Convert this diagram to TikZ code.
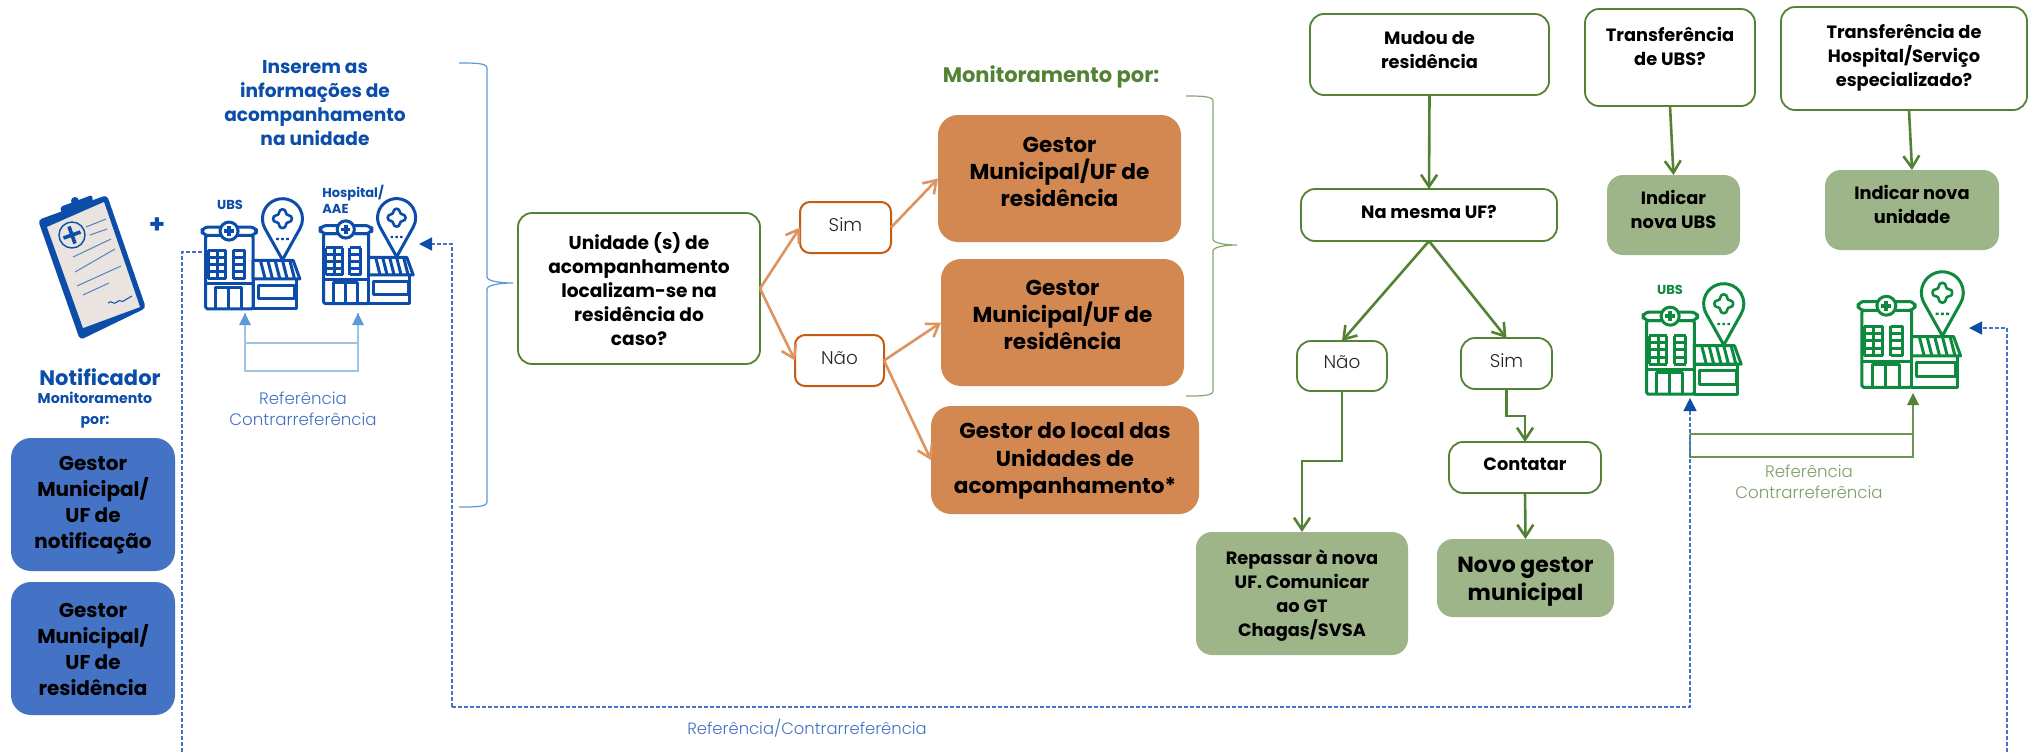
\documentclass[tikz,border=0pt]{standalone}
\usepackage{fontspec}
\setmainfont{Poppins}
\newfontfamily\lightf{Poppins Light}
\usetikzlibrary{arrows.meta}
\definecolor{iconblue}{HTML}{0B4DA8}
\definecolor{boxblue}{HTML}{4472C4}
\definecolor{lightblue}{HTML}{9DC3E6}
\definecolor{headblue}{HTML}{5B9BD5}
\definecolor{orangefill}{HTML}{D38851}
\definecolor{orangeline}{HTML}{C55A11}
\definecolor{orangearrow}{HTML}{DE9460}
\definecolor{greenline}{HTML}{548235}
\definecolor{greenfill}{HTML}{9DB588}
\definecolor{icongreen}{HTML}{0E8A3E}
\definecolor{paper}{HTML}{E9E4DF}
\definecolor{reftext}{HTML}{7F9F66}
\tikzset{
  bxbase/.style={rounded corners=#1,inner sep=0pt,outer sep=0pt},
  whitegreen/.style={bxbase=7pt,draw=greenline,line width=.9pt,fill=white},
  whiteorange/.style={bxbase=5pt,draw=orangeline,line width=1pt,fill=white},
  fillorange/.style={bxbase=10pt,fill=orangefill},
  fillgreen/.style={bxbase=8pt,fill=greenfill},
  fillblue/.style={bxbase=10pt,fill=boxblue},
  tx/.style={align=center,inner sep=0pt,text=black},
  t9/.style={tx,font=\fontsize{8.9}{12}\selectfont\bfseries},
  t10/.style={tx,font=\fontsize{9.3}{12}\selectfont\bfseries},
  t12/.style={tx,font=\fontsize{10.8}{13.7}\selectfont\bfseries},
  tnov/.style={tx,font=\fontsize{11}{14}\selectfont\bfseries},
  tleft/.style={tx,font=\fontsize{10}{13}\selectfont\bfseries},
  treg/.style={tx,font=\fontsize{9.2}{12}\selectfont\lightf,text=black!85},
  orarrow/.style={draw=orangearrow,line width=1.3pt,-{Straight Barb[length=6pt,width=8pt,line width=1.3pt]}},
  grarrow/.style={draw=greenline,line width=1.3pt,-{Straight Barb[length=6pt,width=8pt,line width=1.3pt]}},
  dashline/.style={draw=boxblue,line width=.7pt,dash pattern=on 1.8pt off 1.2pt},
  dashtip/.style={-{Triangle[length=6.5pt,width=6.5pt,fill=iconblue,color=iconblue]}},
  brace/.style={draw=#1,line width=.6pt},
  refline/.style={line width=.7pt},
  pics/hosp/.style={code={
    \begin{scope}[draw=#1,line width=1.5pt,line join=round]
      \draw[fill=white,rounded corners=.8pt] (11,115) rectangle (153,335);
      \draw[fill=white,rounded corners=3pt] (0,90) rectangle (163,115);
      \draw[fill=white] (81,102) circle (27);
      \draw[line width=1.9pt] (81,88) -- (81,116) (67,102) -- (95,102);
      \foreach \yy in {160,181,202,224,245} {\draw (18,\yy) -- (71,\yy) (93,\yy) -- (128,\yy);}
      \draw (18,160) -- (18,245) (71,160) -- (71,245) (45,160) -- (45,245) (93,160) -- (93,245) (128,160) -- (128,245);
      \draw (11,260) -- (153,260);
      \draw (41,335) -- (41,270) -- (118,270) -- (118,335) (79,270) -- (79,335);
      \draw[fill=white] (153,245) rectangle (283,335);
      \draw (168,265) rectangle (278,305);
      \draw[fill=white] (153,190) -- (273,190) -- (293,245) -- (153,245) -- cycle;
      \foreach \xx in {175,197,219,241,263} {\draw (\xx,190) -- (\xx+14,245);}
      \draw[fill=white] (241,188) -- (189,95) arc[start angle=150,end angle=390,radius=60] -- cycle;
      \draw[fill=white,line width=1.3pt,rounded corners=1.5pt] (231,37) -- (251,37) -- (251,55) -- (269,55) -- (269,75) -- (251,75) -- (251,93) -- (231,93) -- (231,75) -- (213,75) -- (213,55) -- (231,55) -- cycle;
      \fill[#1] (222,122) rectangle (230,129) (237,122) rectangle (245,129) (252,122) rectangle (260,129);
    \end{scope}
  }},
}
\newcommand{\bx}[9]{%
  \pgfmathsetmacro{\bxw}{(#4-#2)*0.5}%
  \pgfmathsetmacro{\bxh}{(#5-#3)*0.5}%
  \node[#6,minimum width=\bxw pt,minimum height=\bxh pt] (#1) at ({(#2+#4)/2},{(#3+#5)/2}) {};
  \node[#8] (#1text) at ({(#2+#4)/2},#7) {#9};
}
\begin{document}
\begin{tikzpicture}[x=.5pt,y=-.5pt]
\useasboundingbox (0,0) rectangle (2028,752);
\fill[white] (0,0) rectangle (2028,752);

% clipboard
\fill[iconblue,rounded corners=2pt] (38,220) -- (107,195) -- (146,308) -- (80,340) -- cycle;
\fill[paper] (47,227) -- (104,202) -- (140,307) -- (83,328) -- cycle;
\fill[iconblue,rounded corners=1pt] (60,207) -- (92,195) -- (93,202) -- (62,214) -- cycle;
\fill[iconblue] (75,201) circle (4);
\draw[iconblue,line width=.7pt] (72,235) circle (13);
\draw[iconblue,line width=1.8pt] (63.5,238) -- (80.5,232) (69,226.5) -- (75,243.5);
\draw[iconblue!70!white,line width=.5pt]
  (86,227) -- (106,219) (90,235) -- (107,229) (73,257) -- (111,239)
  (75,272) -- (115,249) (77,286) -- (121,266) (83,295) -- (109,283);
\draw[iconblue,line width=.5pt] (108,303) .. controls (112,299) and (113,306) .. (117,302) .. controls (120,298) and (122,304) .. (125,300) -- (132,296);
\node[font=\fontsize{13}{13}\selectfont\bfseries,text=iconblue,inner sep=0pt] (plus) at (157,226) {+};

% heading
\node[t10,text=iconblue] (heading) at (315,103) {Inserem  as\\informações de\\acompanhamento\\na unidade};

% blue icons
\pic at (202,197) [scale=.334] {hosp=iconblue};
\pic at (320,197) [scale=.318] {hosp=iconblue};
\node[font=\fontsize{6.5}{7}\selectfont\bfseries,text=iconblue,inner sep=0pt] (ubsa) at (230,205) {UBS};
\node[font=\fontsize{6.5}{8}\selectfont\bfseries,text=iconblue,inner sep=0pt,align=left,anchor=west] (hospa) at (322,199) {Hospital/\\AAE};

% local reference arrows
\coordinate (ra) at (245,313);
\coordinate (rb) at (358,313);
\coordinate (rc) at (245,371);
\coordinate (rd) at (358,371);
\coordinate (re) at (245,343);
\coordinate (rf) at (358,343);
\draw[lightblue,refline] (re) -- (rf);
\draw[lightblue,refline] (rb) -- (rd) -- (rc) -- (ra);
\fill[headblue] (245,313) -- (239,325) -- (251,325) -- cycle;
\fill[headblue] (358,313) -- (352,325) -- (364,325) -- cycle;
\node[tx,font=\fontsize{8.3}{10.3}\selectfont\lightf,text=boxblue] (refa) at (303,409) {Referência\\Contrarreferência};

% notifier
\node[tx,font=\fontsize{10.5}{10.5}\selectfont\bfseries,text=iconblue] (notif) at (100,377) {Notificador};
\node[tx,font=\fontsize{7.1}{10.5}\selectfont\bfseries,text=iconblue] (monb) at (95,410) {Monitoramento\\por:};
\bx{ga}{11}{438}{175}{571}{fillblue}{505}{tleft}{Gestor\\Municipal/\\UF de\\notificação}
\bx{gb}{11}{582}{175}{715}{fillblue}{649}{tleft}{Gestor\\Municipal/\\UF de\\residência}

% blue brace
\draw[brace=headblue] (459,63) .. controls (475,63) and (487,63) .. (487,68) -- (487,277) .. controls (487,281) and (500,283) .. (513,283) .. controls (500,283) and (487,285) .. (487,289) -- (487,502) .. controls (487,507) and (475,507) .. (459,507);

% middle
\bx{q}{518}{213}{760}{364}{whitegreen}{289}{t10}{Unidade (s) de\\acompanhamento\\localizam-se na\\residência do\\caso?}
\bx{sima}{800}{202}{891}{253}{whiteorange}{225}{treg}{Sim}
\bx{naoa}{795}{335}{884}{386}{whiteorange}{358}{treg}{Não}
\bx{oa}{938}{115}{1181}{242}{fillorange}{172}{t12}{Gestor\\Municipal/UF de\\residência}
\bx{ob}{941}{259}{1184}{386}{fillorange}{315}{t12}{Gestor\\Municipal/UF de\\residência}
\bx{oc}{931}{406}{1199}{514}{fillorange}{461}{t12}{Gestor do local das\\Unidades de\\acompanhamento*}
\node[tx,font=\fontsize{10.5}{12}\selectfont\bfseries,text=greenline] (mona) at (1051,77) {Monitoramento por:};
\draw[orarrow] (q.east) -- (sima.west);
\draw[orarrow] (q.east) -- (naoa.west);
\draw[orarrow] (sima.east) -- (oa.west);
\draw[orarrow] (naoa.east) -- (ob.west);
\draw[orarrow] (naoa.east) -- (oc.west);

% green brace
\draw[brace=greenline!70] (1186,96) .. controls (1200,96) and (1213,96) .. (1213,101) -- (1213,239) .. controls (1213,243) and (1225,245) .. (1237,245) .. controls (1225,245) and (1213,247) .. (1213,251) -- (1213,391) .. controls (1213,396) and (1200,396) .. (1186,396);

% residence flow
\bx{mud}{1310}{14}{1549}{95}{whitegreen}{50}{t9}{Mudou de\\residência}
\bx{mes}{1301}{189}{1557}{241}{whitegreen}{212}{t9}{Na mesma UF?}
\bx{naob}{1297}{341}{1387}{391}{whitegreen}{362}{treg}{Não}
\bx{simb}{1461}{338}{1552}{389}{whitegreen}{361}{treg}{Sim}
\bx{con}{1449}{442}{1601}{493}{whitegreen}{464}{t9}{Contatar}
\bx{rep}{1196}{532}{1408}{655}{fillgreen}{596}{t9}{Repassar à nova\\UF. Comunicar\\ao GT\\Chagas/SVSA}
\bx{nov}{1437}{539}{1614}{617}{fillgreen}{582}{tnov}{Novo gestor\\municipal}
\bx{tra}{1585}{9}{1755}{106}{whitegreen}{46}{t9}{Transferência\\de UBS?}
\bx{trb}{1781}{7}{2027}{110}{whitegreen}{58}{t9}{Transferência de\\Hospital/Serviço\\especializado?}
\bx{inda}{1607}{175}{1740}{255}{fillgreen}{209}{t9}{Indicar\\nova UBS}
\bx{indb}{1825}{170}{1999}{250}{fillgreen}{204}{t9}{Indicar nova\\unidade}
\draw[grarrow] (mud.south) -- (mes.north);
\draw[grarrow] (mes.south) -- (naob.north);
\draw[grarrow] (mes.south) -- (simb.north);
\draw[grarrow] (naob.south) |- (1302,461) -- (rep.north);
\draw[grarrow] (simb.south) |- (1525,416) -- (con.north);
\draw[grarrow] (con.south) -- (nov.north);
\draw[grarrow] (tra.south) -- (inda.north);
\draw[grarrow] ([xshift=2.5pt]trb.south) -- (indb.north);

% green icons
\pic at (1643,282) [scale=.335] {hosp=icongreen};
\pic at (1858,270) [scale=.35] {hosp=icongreen};
\node[font=\fontsize{6.5}{7}\selectfont\bfseries,text=icongreen,inner sep=0pt] (ubsb) at (1670,290) {UBS};

% green reference arrows
\coordinate (ga1) at (1690,434);
\coordinate (ga2) at (1913,434);
\coordinate (ga3) at (1690,457);
\coordinate (ga4) at (1913,457);
\coordinate (ga5) at (1913,405);
\draw[greenline!85,refline] (ga1) -- (ga2);
\draw[greenline!85,refline] (ga5) -- (ga4) -- (ga3) -- (ga1);
\fill[greenline] (1913,393) -- (1907,405) -- (1919,405) -- cycle;
\node[tx,font=\fontsize{8.3}{10.3}\selectfont\lightf,text=reftext] (refb) at (1809,482) {Referência\\Contrarreferência};

% long dashed connectors
\coordinate (da) at (202,252);
\coordinate (db) at (182,752);
\coordinate (dc) at (452,707);
\coordinate (dd) at (419,244);
\coordinate (de) at (1690,398);
\coordinate (df) at (2007,752);
\coordinate (dg) at (1969,328);
\draw[dashline] (da) -| (db);
\draw[dashline,dashtip] (dc) |- (dd);
\draw[dashline,dashtip] (dc) -| (de);
\draw[dashline,dashtip] (df) |- (dg);
\node[tx,font=\fontsize{8.2}{10}\selectfont\lightf,text=boxblue] (refc) at (807,728) {Referência/Contrarreferência};
\end{tikzpicture}
\end{document}
